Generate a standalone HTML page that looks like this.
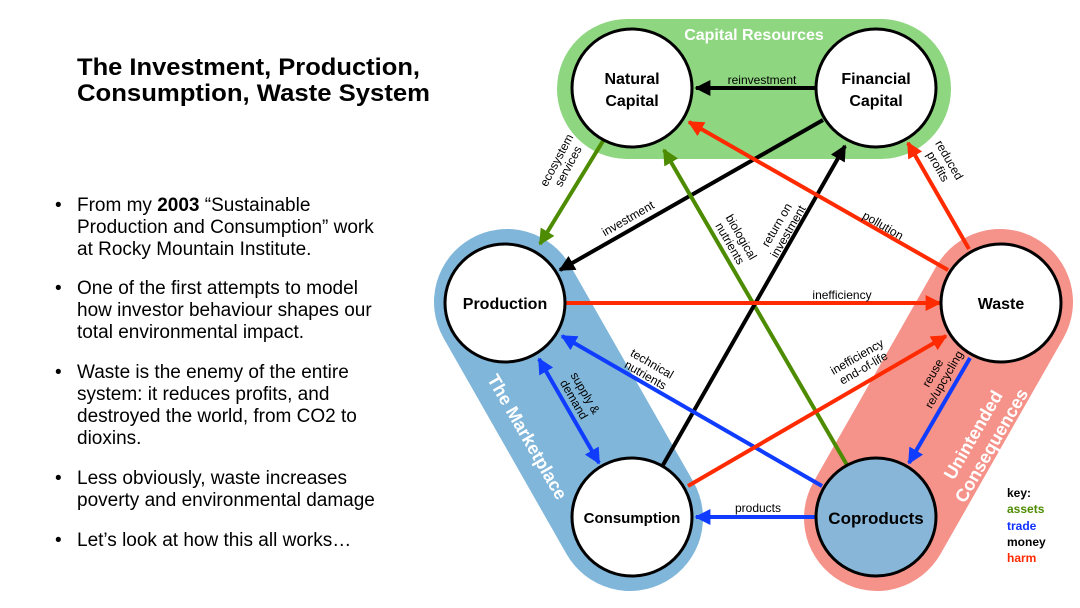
<!DOCTYPE html>
<html><head><meta charset="utf-8"><style>
html,body{margin:0;padding:0;background:#fff;}
svg{display:block;font-family:"Liberation Sans",Arial,sans-serif;}
</style></head><body>
<svg width="1080" height="608" viewBox="0 0 1080 608" xmlns="http://www.w3.org/2000/svg">
<defs>
<marker id="mk" viewBox="0 0 10 10" refX="9" refY="5" markerWidth="4" markerHeight="4" orient="auto-start-reverse" markerUnits="strokeWidth"><path d="M0,0 L10,5 L0,10 z" fill="#000"/></marker>
<marker id="mr" viewBox="0 0 10 10" refX="9" refY="5" markerWidth="4" markerHeight="4" orient="auto-start-reverse" markerUnits="strokeWidth"><path d="M0,0 L10,5 L0,10 z" fill="#ff2a00"/></marker>
<marker id="mg" viewBox="0 0 10 10" refX="9" refY="5" markerWidth="4" markerHeight="4" orient="auto-start-reverse" markerUnits="strokeWidth"><path d="M0,0 L10,5 L0,10 z" fill="#4d8c00"/></marker>
<marker id="mb" viewBox="0 0 10 10" refX="9" refY="5" markerWidth="4" markerHeight="4" orient="auto-start-reverse" markerUnits="strokeWidth"><path d="M0,0 L10,5 L0,10 z" fill="#0f3cff"/></marker>
</defs>

<!-- Left text -->
<g font-size="24.5" font-weight="bold" fill="#000">
<text x="77" y="75" textLength="343" lengthAdjust="spacingAndGlyphs">The Investment, Production,</text>
<text x="77" y="101" textLength="353" lengthAdjust="spacingAndGlyphs">Consumption, Waste System</text>
</g>
<g font-size="19" fill="#000">
<text x="55" y="211">•</text><text x="77" y="211">From my <tspan font-weight="bold">2003</tspan> “Sustainable</text>
<text x="77" y="233">Production and Consumption” work</text>
<text x="77" y="255">at Rocky Mountain Institute.</text>
<text x="55" y="294">•</text><text x="77" y="294">One of the first attempts to model</text>
<text x="77" y="316">how investor behaviour shapes our</text>
<text x="77" y="338">total environmental impact.</text>
<text x="55" y="378">•</text><text x="77" y="378">Waste is the enemy of the entire</text>
<text x="77" y="400">system: it reduces profits, and</text>
<text x="77" y="422">destroyed the world, from CO2 to</text>
<text x="77" y="444">dioxins.</text>
<text x="55" y="484">•</text><text x="77" y="484">Less obviously, waste increases</text>
<text x="77" y="506">poverty and environmental damage</text>
<text x="55" y="546">•</text><text x="77" y="546">Let’s look at how this all works…</text>
</g>

<!-- Groups -->
<rect x="557" y="19" width="394" height="140" rx="70" fill="#8ed680"/>
<text x="754" y="40" font-size="16" font-weight="bold" fill="#fff" text-anchor="middle">Capital Resources</text>
<line x1="507" y1="302" x2="630" y2="518" stroke="#80b6da" stroke-width="146" stroke-linecap="round"/>
<line x1="1000" y1="302" x2="877" y2="518" stroke="#f5938a" stroke-width="146" stroke-linecap="round"/>
<text transform="translate(522,440) rotate(60)" font-size="18" font-weight="bold" fill="#fff" text-anchor="middle">The Marketplace</text>
<g transform="translate(982,440) rotate(-60)" font-size="18" font-weight="bold" fill="#fff" text-anchor="middle">
<text x="0" y="-4">Unintended</text><text x="0" y="17">Consequences</text></g>

<!-- Arrows -->
<g stroke-width="4" fill="none">
<line x1="817" y1="88" x2="696" y2="88" stroke="#000" marker-end="url(#mk)"/>
<line x1="603" y1="141" x2="540" y2="244" stroke="#4d8c00" marker-end="url(#mg)"/>
<line x1="823" y1="120" x2="560" y2="270" stroke="#000" marker-end="url(#mk)"/>
<line x1="847" y1="465" x2="664" y2="150" stroke="#4d8c00" marker-end="url(#mg)"/>
<line x1="663" y1="465" x2="845" y2="146" stroke="#000" marker-end="url(#mk)"/>
<line x1="948" y1="270" x2="689" y2="122" stroke="#ff2a00" marker-end="url(#mr)"/>
<line x1="969" y1="249" x2="908" y2="143" stroke="#ff2a00" marker-end="url(#mr)"/>
<line x1="565" y1="303" x2="940" y2="303" stroke="#ff2a00" marker-end="url(#mr)"/>
<line x1="822" y1="486" x2="562" y2="336" stroke="#0f3cff" marker-end="url(#mb)"/>
<line x1="539" y1="359" x2="599" y2="463" stroke="#0f3cff" marker-start="url(#mb)" marker-end="url(#mb)"/>
<line x1="688" y1="486" x2="946" y2="336" stroke="#ff2a00" marker-end="url(#mr)"/>
<line x1="970" y1="358" x2="909" y2="463" stroke="#0f3cff" marker-end="url(#mb)"/>
<line x1="816" y1="517" x2="696" y2="517" stroke="#0f3cff" marker-end="url(#mb)"/>
</g>

<!-- Nodes -->
<g stroke="#000" stroke-width="3">
<ellipse cx="632" cy="88" rx="60" ry="59" fill="#fff"/>
<ellipse cx="876" cy="88" rx="60" ry="59" fill="#fff"/>
<ellipse cx="505" cy="303" rx="60" ry="59" fill="#fff"/>
<ellipse cx="1001" cy="303" rx="60" ry="59" fill="#fff"/>
<ellipse cx="632" cy="517" rx="60" ry="59" fill="#fff"/>
<ellipse cx="876" cy="517" rx="60" ry="59" fill="#87b6d8"/>
</g>
<g font-size="16" font-weight="bold" fill="#000" text-anchor="middle">
<text x="632" y="84">Natural</text><text x="632" y="106">Capital</text>
<text x="876" y="84">Financial</text><text x="876" y="106">Capital</text>
<text x="505" y="309">Production</text>
<text x="1001" y="309">Waste</text>
<text x="632" y="523" font-size="15">Consumption</text>
<text x="876" y="524" font-size="17">Coproducts</text>
</g>

<!-- Labels -->
<g font-size="12" fill="#000" text-anchor="middle">
<text x="762" y="84">reinvestment</text>
<g transform="translate(562,163) rotate(-62)"><text x="0" y="-2">ecosystem</text><text x="0" y="11">services</text></g>
<text transform="translate(630,222) rotate(-30)">investment</text>
<g transform="translate(736,240) rotate(60)"><text x="0" y="-2">biological</text><text x="0" y="11">nutrients</text></g>
<g transform="translate(782,228) rotate(-60)"><text x="0" y="-2">return on</text><text x="0" y="11">investment</text></g>
<text transform="translate(881,229) rotate(30)">pollution</text>
<g transform="translate(944,163) rotate(60)"><text x="0" y="-2">reduced</text><text x="0" y="11">profits</text></g>
<text x="842" y="299">inefficiency</text>
<g transform="translate(649,369) rotate(30)"><text x="0" y="-2">technical</text><text x="0" y="11">nutrients</text></g>
<g transform="translate(580,396) rotate(60)"><text x="0" y="-2">supply &amp;</text><text x="0" y="11">demand</text></g>
<g transform="translate(860,362) rotate(-30)"><text x="0" y="-2">inefficiency</text><text x="0" y="11">end-of-life</text></g>
<g transform="translate(938,376) rotate(-60)"><text x="0" y="-2">reuse</text><text x="0" y="11">re/upcycling</text></g>
<text x="758" y="512">products</text>
</g>

<!-- Key -->
<g font-size="12" font-weight="bold">
<text x="1007" y="497" fill="#000">key:</text>
<text x="1007" y="513" fill="#4d8c00">assets</text>
<text x="1007" y="530" fill="#1030ff">trade</text>
<text x="1007" y="546" fill="#000">money</text>
<text x="1007" y="562" fill="#ff2a00">harm</text>
</g>
</svg>
</body></html>
